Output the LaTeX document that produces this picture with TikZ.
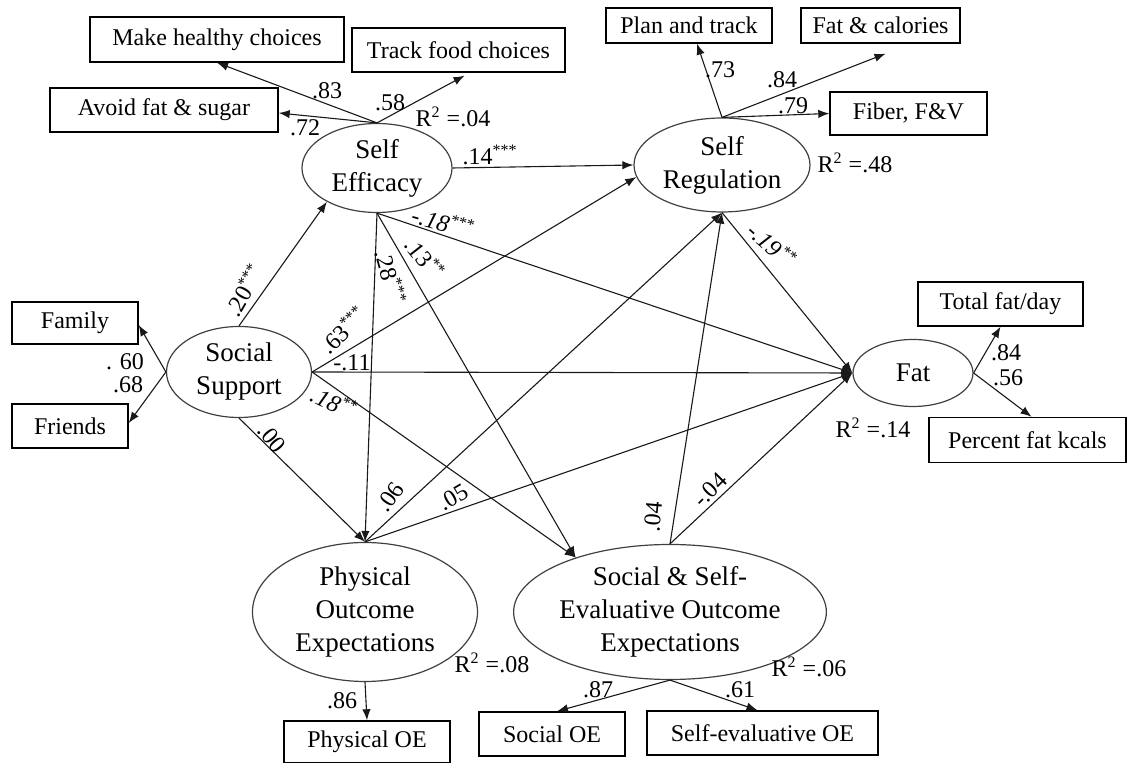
\documentclass[tikz,border=0pt]{standalone}
\usepackage{fontspec}
\setmainfont{Liberation Serif}
\usetikzlibrary{shapes.geometric,arrows.meta,calc}
\begin{document}
\begin{tikzpicture}[x=0.5pt,y=-0.5pt,
  lat/.style={ellipse,draw=black!75,line width=0.6pt,inner sep=0pt,align=center,font=\fontsize{13.5}{16.5}\selectfont},
  obs/.style={rectangle,draw=black,line width=0.7pt,inner sep=0pt,font=\fontsize{12}{14}\selectfont},
  arr/.style={-{Latex[length=5.5pt,width=4.2pt]},line width=0.55pt,draw=black!90},
  lab/.style={font=\fontsize{12}{14}\selectfont,inner sep=0pt},
  ilab/.style={font=\fontsize{12}{14}\itshape\selectfont,inner sep=0pt}]
\useasboundingbox (0,0) rectangle (1137,763);
% latent variables
\node[lat,minimum width=75pt,minimum height=44.5pt] (se) at (377,168) {Self\\Efficacy};
\node[lat,minimum width=88pt,minimum height=47pt] (sr) at (722,165) {Self\\Regulation};
\node[lat,minimum width=72.5pt,minimum height=45.5pt] (ss) at (239,372) {Social\\Support};
\node[lat,minimum width=60pt,minimum height=33.5pt] (fat) at (913,373) {Fat};
\node[lat,minimum width=112.5pt,minimum height=69.5pt] (poe) at (365,612) {Physical\\Outcome\\Expectations};
\node[lat,minimum width=121pt,minimum height=67.5pt] (sse) at (670,612) {Social \& Self-\\Evaluative Outcome\\Expectations};
% observed variables
\node[obs,minimum width=127pt,minimum height=22.5pt] (mhc) at (217,39.5) {Make healthy choices};
\node[obs,minimum width=106.5pt,minimum height=22pt] (tfc) at (458.5,50) {Track food choices};
\node[obs,minimum width=114pt,minimum height=22pt] (afs) at (164,110) {Avoid fat \& sugar};
\node[obs,minimum width=83pt,minimum height=17.5pt] (pat) at (689,25.5) {Plan and track};
\node[obs,minimum width=79.5pt,minimum height=17.5pt] (fac) at (880.5,25.5) {Fat \& calories};
\node[obs,minimum width=78.5pt,minimum height=21.5pt] (fib) at (908.5,113.5) {Fiber, F\&V};
\node[obs,minimum width=63pt,minimum height=21pt] (fam) at (75,323) {Family};
\node[obs,minimum width=58pt,minimum height=22pt] (fri) at (70,426) {Friends};
\node[obs,minimum width=82.5pt,minimum height=22pt] (tfd) at (1000.5,304) {Total fat/day};
\node[obs,minimum width=98.5pt,minimum height=22.5pt] (pfk) at (1027.5,440) {Percent fat kcals};
\node[obs,minimum width=83pt,minimum height=21pt] (pob) at (367,742) {Physical OE};
\node[obs,minimum width=73pt,minimum height=22pt] (soe) at (552,734) {Social OE};
\node[obs,minimum width=115.5pt,minimum height=22pt] (seo) at (762.5,733) {Self-evaluative OE};
% measurement paths
\draw[arr] (se.north) -- (mhc.south);
\draw[arr] (se.north) -- ($(afs.east)+(0,3)$);
\draw[arr] (se.north) -- ($(tfc.south)+(6,3)$);
\draw[arr] (sr.north) -- ($(pat.south)+(8,0)$);
\draw[arr] (sr.north) -- ($(fac.south)+(5,10)$);
\draw[arr] (sr.north) -- (fib.west);
\draw[arr] (ss.west) -- ($(fam.east)+(0,2)$);
\draw[arr] (ss.west) -- ($(fri.east)+(0,-3)$);
\draw[arr] (fat.east) -- (tfd.south);
\draw[arr] (fat.east) -- ($(pfk.north)+(4,0)$);
\draw[arr] (poe.south) -- (pob.north);
\draw[arr] (sse.south) -- ($(soe.north)+(5,0)$);
\draw[arr] (sse.south) -- ($(seo.north)+(-5,0)$);
% structural paths
\draw[arr] (ss.north) -- (se.214);
\draw[arr] (se.east) -- (sr.west);
\draw[arr] (se.south) -- (fat.west);
\draw[arr] (se.south) -- (poe.north);
\draw[arr] (se.south) -- (sse.150);
\draw[arr] (ss.east) -- (sr.188);
\draw[arr] (ss.east) -- (fat.west);
\draw[arr] (ss.east) -- (sse.150);
\draw[arr] (ss.south) -- (poe.north);
\draw[arr] (poe.north) -- (sr.south);
\draw[arr] (poe.north) -- (fat.west);
\draw[arr] (sse.north) -- (sr.south);
\draw[arr] (sse.north) -- (fat.west);
\draw[arr] (sr.south) -- (fat.west);
% loading labels
\node[lab] (l83) at (327,91) {.83};
\node[lab] (l72) at (305,128) {.72};
\node[lab] (l58) at (390,103) {.58};
\node[lab] (r04) at (453,117) {R\textsuperscript{2} =.04};
\node[lab] (l73) at (720,70) {.73};
\node[lab] (l84a) at (782,80) {.84};
\node[lab] (l79) at (793,106) {.79};
\node[lab] (r48) at (855,163) {R\textsuperscript{2} =.48};
\node[lab] (l60) at (125,362) {. 60};
\node[lab] (l68) at (128,385) {.68};
\node[lab] (l84b) at (1006,353) {.84};
\node[lab] (l56) at (1008,378) {.56};
\node[lab] (r14) at (873,428) {R\textsuperscript{2} =.14};
\node[lab] (l86) at (342,701) {.86};
\node[lab] (l87) at (598,690) {.87};
\node[lab] (l61) at (740,690) {.61};
\node[lab] (r08) at (492,663) {R\textsuperscript{2} =.08};
\node[lab] (r06) at (809,667) {R\textsuperscript{2} =.06};
% path labels
\node[lab] (p14) at (490,155) {.14\textsuperscript{***}};
\node[lab,rotate=60] (p20) at (244,290) {.20\textsuperscript{***}};
\node[lab,rotate=44] (p63) at (343,330) {.63\textsuperscript{***}};
\node[lab] (p11) at (352,363) {-.11};
\node[ilab,rotate=-25] (p18b) at (334,402) {.18\textsuperscript{**}};
\node[lab,rotate=-50] (p00) at (272,438) {.00};
\node[lab,rotate=-75] (p28) at (391,277) {.28\textsuperscript{***}};
\node[lab,rotate=-52] (p13) at (425,258) {.13\textsuperscript{**}};
\node[ilab,rotate=-16] (p18a) at (443,222) {-.18\textsuperscript{***}};
\node[ilab,rotate=-42] (p19) at (772,245) {-.19\textsuperscript{**}};
\node[lab,rotate=55] (p06) at (390,497) {.06};
\node[lab,rotate=30] (p05) at (453,497) {.05};
\node[lab,rotate=85] (p04a) at (653,517) {.04};
\node[lab,rotate=45] (p04b) at (710,490) {-.04};
\end{tikzpicture}
\end{document}
